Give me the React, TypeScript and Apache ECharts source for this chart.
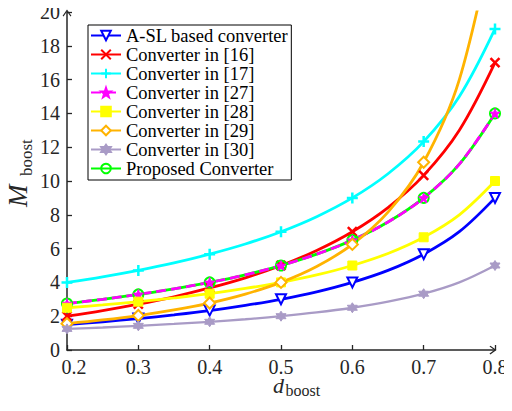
import React, { useEffect, useRef } from "react";
import * as echarts from "echarts";

// duty ratio samples (markers drawn every 0.1)
const dBoost = [0.2, 0.25, 0.3, 0.35, 0.4, 0.45, 0.5, 0.55, 0.6, 0.65, 0.7, 0.75, 0.8];
const aslBased = [1.5, 1.67, 1.86, 2.08, 2.33, 2.64, 3.0, 3.44, 4.0, 4.71, 5.67, 7.0, 9.0];
const conv16 = [2.0, 2.33, 2.71, 3.15, 3.67, 4.27, 5.0, 5.89, 7.0, 8.43, 10.33, 13.0, 17.0];
const conv17 = [4.0, 4.33, 4.71, 5.15, 5.67, 6.27, 7.0, 7.89, 9.0, 10.43, 12.33, 15.0, 19.0];
const conv27 = [2.75, 3.0, 3.29, 3.62, 4.0, 4.45, 5.0, 5.67, 6.5, 7.57, 9.0, 11.0, 14.0];
const conv28 = [2.5, 2.67, 2.86, 3.08, 3.33, 3.64, 4.0, 4.44, 5.0, 5.71, 6.67, 8.0, 10.0];
const conv29 = [1.56, 1.78, 2.04, 2.37, 2.78, 3.31, 4.0, 4.94, 6.25, 8.16, 11.11, 16.0, 25.0];
const conv30 = [1.25, 1.33, 1.43, 1.54, 1.67, 1.82, 2.0, 2.22, 2.5, 2.86, 3.33, 4.0, 5.0];
const proposed = [2.75, 3.0, 3.29, 3.62, 4.0, 4.45, 5.0, 5.67, 6.5, 7.57, 9.0, 11.0, 14.0];

const seriesNames = [
  "A-SL based converter",
  "Converter in [16]",
  "Converter in [17]",
  "Converter in [27]",
  "Converter in [28]",
  "Converter in [29]",
  "Converter in [30]",
  "Proposed Converter",
];

const FONT = "Liberation Serif";
const AXIS_COLOR = "#262626";

const SYM_X = "path://M0,0L10,10M0,10L10,0";
const SYM_PLUS = "path://M5,0L5,10M0,5L10,5";
const SYM_STAR5 =
  "path://M10,0L12.35,6.76L19.51,6.91L13.8,11.24L15.88,18.09L10,14L4.12,18.09L6.2,11.24L0.49,6.91L7.65,6.76Z";
const SYM_STAR6 =
  "path://M10,0L12.89,5L18.66,5L15.77,10L18.66,15L12.89,15L10,20L7.11,15L1.34,15L4.23,10L1.34,5L7.11,5Z";
const ARROW = "path://M5,0L10,7L9,8L5,2.4L1,8L0,7Z";

function makeSeries(
  name: string,
  values: number[],
  color: string,
  symbol: string,
  itemStyle: any,
  extra: any = {}
) {
  return {
    name,
    type: "line",
    smooth: 0.35,
    symbol,
    symbolSize: 10,
    showSymbol: true,
    showAllSymbol: true,
    lineStyle: { color, width: 2.8, type: "solid" },
    itemStyle,
    emphasis: { disabled: true },
    data: dBoost.map((d, i) =>
      i % 2 === 0 ? { value: [d, values[i]] } : { value: [d, values[i]], symbol: "none" }
    ),
    ...extra,
  };
}

export default function App() {
  const ref = useRef<HTMLDivElement>(null);

  useEffect(() => {
    if (!ref.current) return;
    const chart = echarts.init(ref.current, undefined, { renderer: "svg" });

    const series = [
      makeSeries(seriesNames[0], aslBased, "#0000ff", "triangle", {
        color: "#ffffff",
        borderColor: "#0000ff",
        borderWidth: 2,
      }, { symbolRotate: 180 }),
      makeSeries(seriesNames[1], conv16, "#ff0000", SYM_X, {
        color: "rgba(0,0,0,0)",
        borderColor: "#ff0000",
        borderWidth: 2.5,
      }, { symbolSize: 9 }),
      makeSeries(seriesNames[2], conv17, "#00ffff", SYM_PLUS, {
        color: "rgba(0,0,0,0)",
        borderColor: "#00ffff",
        borderWidth: 2.5,
      }, { symbolSize: 11 }),
      makeSeries(seriesNames[7], proposed, "#00ff00", "circle", {
        color: "rgba(0,0,0,0)",
        borderColor: "#00ff00",
        borderWidth: 2,
      }),
      makeSeries(seriesNames[3], conv27, "#ff00ff", SYM_STAR5, {
        color: "#ff00ff",
        borderColor: "#ff00ff",
        borderWidth: 1,
      }, { lineStyle: { color: "#ff00ff", width: 2.8, type: [10, 5] }, symbolSize: 10 }),
      makeSeries(seriesNames[4], conv28, "#ffff00", "rect", {
        color: "#ffff00",
        borderColor: "#ffff00",
        borderWidth: 1,
      }, { symbolSize: 9 }),
      makeSeries(seriesNames[5], conv29, "#ffb300", "diamond", {
        color: "#ffffff",
        borderColor: "#ffb300",
        borderWidth: 2,
      }, { symbolSize: 11 }),
      makeSeries(seriesNames[6], conv30, "#a99bc6", SYM_STAR6, {
        color: "#a99bc6",
        borderColor: "#a99bc6",
        borderWidth: 1,
      }, { lineStyle: { color: "#a99bc6", width: 2.3, type: "solid" } }),
    ];

    chart.setOption({
      animation: false,
      backgroundColor: "#ffffff",
      textStyle: { fontFamily: FONT },
      grid: { left: 67, right: 17, top: 12, bottom: 61, containLabel: false },
      legend: {
        data: seriesNames,
        orient: "vertical",
        left: 88,
        top: 25,
        backgroundColor: "#ffffff",
        borderColor: "#000000",
        borderWidth: 1,
        padding: [1, 3, 2, 2],
        itemGap: 0,
        itemWidth: 30,
        itemHeight: 12,
        selectedMode: false,
        textStyle: { fontFamily: FONT, fontSize: 18.5, color: "#000000", lineHeight: 18 },
      },
      xAxis: {
        type: "value",
        min: 0.2,
        max: 0.8,
        interval: 0.1,
        splitLine: { show: false },
        axisLine: {
          show: true,
          lineStyle: { color: AXIS_COLOR, width: 1.5 },
          symbol: ["none", ARROW],
          symbolSize: [9, 7],
          symbolOffset: [0, -2],
        },
        axisTick: { show: true, inside: true, length: 5, lineStyle: { color: AXIS_COLOR, width: 1.3 } },
        axisLabel: {
          fontFamily: FONT,
          fontSize: 20,
          color: AXIS_COLOR,
          margin: 7,
          formatter: (v: number) => (Math.abs(v - 0.2) < 1e-9 ? "{first|0.2}" : v.toFixed(1)),
          rich: {
            first: { fontFamily: FONT, fontSize: 20, color: AXIS_COLOR, padding: [0, 0, 0, 14] },
          },
        },
      },
      yAxis: {
        type: "value",
        min: 0,
        max: 20,
        interval: 2,
        splitLine: { show: false },
        axisLine: {
          show: true,
          lineStyle: { color: AXIS_COLOR, width: 1.5 },
          symbol: ["none", ARROW],
          symbolSize: [9, 7],
          symbolOffset: [0, -1],
        },
        axisTick: { show: true, inside: true, length: 5, lineStyle: { color: AXIS_COLOR, width: 1.3 } },
        axisLabel: { fontFamily: FONT, fontSize: 20, color: AXIS_COLOR, margin: 7 },
      },
      graphic: [
        {
          type: "group",
          x: 273,
          y: 0,
          children: [
            {
              type: "text",
              x: 0,
              y: 385.5,
              style: {
                text: "d",
                font: `italic 22px "${FONT}"`,
                fill: AXIS_COLOR,
                align: "left",
                verticalAlign: "middle",
              },
            },
            {
              type: "text",
              x: 12.5,
              y: 390.5,
              style: {
                text: "boost",
                font: `16px "${FONT}"`,
                fill: AXIS_COLOR,
                align: "left",
                verticalAlign: "middle",
              },
            },
          ],
        },
        {
          type: "group",
          x: 0,
          y: 207,
          rotation: Math.PI / 2,
          children: [
            {
              type: "text",
              x: 0,
              y: 18,
              style: { text: "M", font: `italic 27px "${FONT}"`, fill: AXIS_COLOR, align: "left", verticalAlign: "middle" },
            },
            {
              type: "text",
              x: 31,
              y: 26,
              style: { text: "boost", font: `17px "${FONT}"`, fill: AXIS_COLOR, align: "left", verticalAlign: "middle" },
            },
          ],
        },
      ],
      series,
    });

    return () => chart.dispose();
  }, []);

  return <div ref={ref} style={{ width: 512, height: 411, margin: -8 }} />;
}
